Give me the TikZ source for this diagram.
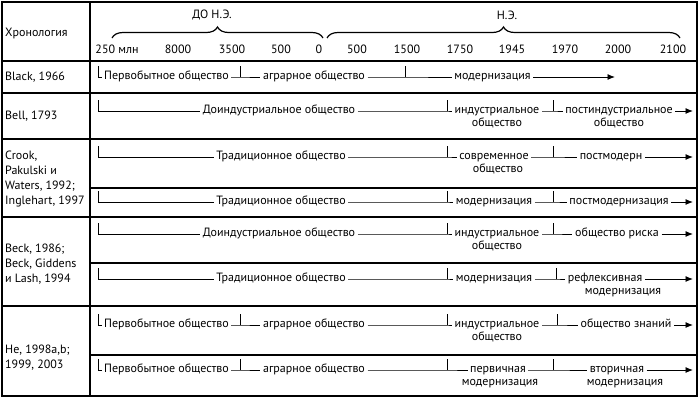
\documentclass[tikz,border=0pt]{standalone}
\usepackage{fontspec}
\setmainfont{PT Sans}
\usetikzlibrary{decorations.pathreplacing,arrows.meta}
\begin{document}
\begin{tikzpicture}[x=1pt,y=-1pt,
  txt/.style={font=\fontsize{12}{13}\selectfont},
  lbl/.style={txt, inner xsep=2.5pt, inner ysep=0pt, text height=1.2ex, text depth=0.2ex},
  rowlbl/.style={font=\fontsize{12}{15}\selectfont, anchor=west, align=left, inner sep=0pt},
  yr/.style={txt, inner sep=0pt},
  frame/.style={line width=1.4pt},
  grid/.style={line width=1.2pt},
  conn/.style={line width=0.9pt},
  arr/.style={conn, -{Latex[length=7.5pt,width=6pt]}},
  bracestyle/.style={line width=1.2pt, decorate, decoration={brace, amplitude=11pt, aspect=0.5}}
]
\useasboundingbox (0,0) rectangle (700,399);
\fill[white] (0,0) rectangle (700,399);

% table frame
\draw[frame] (2,2) rectangle (697,396);
\draw[grid] (90,2) -- (90,396);
\draw[grid] (2,61) -- (697,61);
\draw[grid] (2,93) -- (697,93);
\draw[grid] (2,139) -- (697,139);
\draw[grid] (2,217) -- (697,217);
\draw[grid] (2,306) -- (697,306);
\draw[grid] (90,188) -- (697,188);
\draw[grid] (90,263) -- (697,263);
\draw[grid] (90,355) -- (697,355);

% header
\node[rowlbl] (hdr) at (5,33) {Хронология};
\node[txt, inner sep=0pt] (bc) at (212,15) {ДО Н.Э.};
\node[txt, inner sep=0pt] (ad) at (507,15) {Н.Э.};
\draw[bracestyle] (112,38) -- (323,38);
\draw[bracestyle] (327,38) -- (680,38);
\node[yr] (y1) at (117,49) {250 млн};
\node[yr] (y2) at (178,49) {8000};
\node[yr] (y3) at (232,49) {3500};
\node[yr] (y4) at (281,49) {500};
\node[yr] (y5) at (319,49) {0};
\node[yr] (y6) at (357,49) {500};
\node[yr] (y7) at (407,49) {1500};
\node[yr] (y8) at (460,49) {1750};
\node[yr] (y9) at (512,49) {1945};
\node[yr] (y10) at (565,49) {1970};
\node[yr] (y11) at (618,49) {2000};
\node[yr] (y12) at (673,49) {2100};

% row labels
\node[rowlbl] (rBlack) at (5,77) {Black, 1966};
\node[rowlbl] (rBell) at (5,116) {Bell, 1793};
\node[rowlbl] (rCrook) at (5,178.5) {Crook,\\Pakulski и\\Waters, 1992;\\Inglehart, 1997};
\node[rowlbl] (rBeck) at (5,264) {Beck, 1986;\\Beck, Giddens\\и Lash, 1994};
\node[rowlbl] (rHe) at (5,358) {He, 1998a,b;\\1999, 2003};

% ---- Black, 1966 (Y=77)
\node[lbl] (a1) at (166.5,77) {Первобытное общество};
\node[lbl] (a2) at (314,77) {аграрное общество};
\node[lbl] (a3) at (492.5,77) {модернизация};
\coordinate (a0) at (98,66);
\coordinate (ak1) at (240,77); \coordinate (ak1t) at (240,66);
\coordinate (ak2) at (405,77); \coordinate (ak2t) at (405,66);
\coordinate (aend) at (615,77);
\draw[conn] (a0) |- (a1);
\draw[conn] (a1) -- (ak1) -- (a2);
\draw[conn] (ak1t) -- (ak1);
\draw[conn] (a2) -- (ak2) -- (a3);
\draw[conn] (ak2t) -- (ak2);
\draw[arr] (a3) -- (aend);

% ---- Bell, 1793 (Y=111)
\node[lbl] (e1) at (279,111) {Доиндустриальное общество};
\node[lbl] (e2) at (497,111) {индустриальное};
\node[lbl] (e2b) at (497,124) {общество};
\node[lbl] (e3) at (619,111) {постиндустриальное};
\node[lbl] (e3b) at (619,124) {общество};
\coordinate (e0) at (98,100);
\coordinate (ek1) at (447,111); \coordinate (ek1t) at (447,100);
\coordinate (ek2) at (553,111); \coordinate (ek2t) at (553,100);
\coordinate (eend) at (693,111);
\draw[conn] (e0) |- (e1);
\draw[conn] (e1) -- (ek1) -- (e2);
\draw[conn] (ek1t) -- (ek1);
\draw[conn] (e2) -- (ek2) -- (e3);
\draw[conn] (ek2t) -- (ek2);
\draw[arr] (e3) -- (eend);

% ---- Crook 1 (Y=157)
\node[lbl] (c1) at (281,157) {Традиционное общество};
\node[lbl] (c2) at (494,157) {современное};
\node[lbl] (c2b) at (498,170) {общество};
\node[lbl] (c3) at (611,157) {постмодерн};
\coordinate (c0) at (98,146);
\coordinate (ck1) at (447,157); \coordinate (ck1t) at (447,146);
\coordinate (ck2) at (553,157); \coordinate (ck2t) at (553,146);
\coordinate (cend) at (693,157);
\draw[conn] (c0) |- (c1);
\draw[conn] (c1) -- (ck1) -- (c2);
\draw[conn] (ck1t) -- (ck1);
\draw[conn] (c2) -- (ck2) -- (c3);
\draw[conn] (ck2t) -- (ck2);
\draw[arr] (c3) -- (cend);

% ---- Crook 2 (Y=202)
\node[lbl] (d1) at (281,202) {Традиционное общество};
\node[lbl] (d2) at (494,202) {модернизация};
\node[lbl] (d3) at (619,202) {постмодернизация};
\coordinate (d0) at (98,191);
\coordinate (dk1) at (447,202); \coordinate (dk1t) at (447,191);
\coordinate (dk2) at (553,202); \coordinate (dk2t) at (553,191);
\coordinate (dend) at (693,202);
\draw[conn] (d0) |- (d1);
\draw[conn] (d1) -- (dk1) -- (d2);
\draw[conn] (dk1t) -- (dk1);
\draw[conn] (d2) -- (dk2) -- (d3);
\draw[conn] (dk2t) -- (dk2);
\draw[arr] (d3) -- (dend);

% ---- Beck 1 (Y=234)
\node[lbl] (f1) at (279,234) {Доиндустриальное общество};
\node[lbl] (f2) at (497,234) {индустриальное};
\node[lbl] (f2b) at (497,247) {общество};
\node[lbl] (f3) at (617,234) {общество риска};
\coordinate (f0) at (98,223);
\coordinate (fk1) at (447,234); \coordinate (fk1t) at (447,223);
\coordinate (fk2) at (553,234); \coordinate (fk2t) at (553,223);
\coordinate (fend) at (693,234);
\draw[conn] (f0) |- (f1);
\draw[conn] (f1) -- (fk1) -- (f2);
\draw[conn] (fk1t) -- (fk1);
\draw[conn] (f2) -- (fk2) -- (f3);
\draw[conn] (fk2t) -- (fk2);
\draw[arr] (f3) -- (fend);

% ---- Beck 2 (Y=279)
\node[lbl] (g1) at (281,279) {Традиционное общество};
\node[lbl] (g2) at (494,279) {модернизация};
\node[lbl] (g3) at (605,279) {рефлексивная};
\node[lbl] (g3b) at (623,292) {модернизация};
\coordinate (g0) at (98,268);
\coordinate (gk1) at (447,279); \coordinate (gk1t) at (447,268);
\coordinate (gk2) at (556,279); \coordinate (gk2t) at (556,268);
\coordinate (gend) at (693,279);
\draw[conn] (g0) |- (g1);
\draw[conn] (g1) -- (gk1) -- (g2);
\draw[conn] (gk1t) -- (gk1);
\draw[conn] (g2) -- (gk2) -- (g3);
\draw[conn] (gk2t) -- (gk2);
\draw[arr] (g3) -- (gend);

% ---- He 1 (Y=325)
\node[lbl] (h1) at (166.5,325) {Первобытное общество};
\node[lbl] (h2) at (314,325) {аграрное общество};
\node[lbl] (h3) at (497,325) {индустриальное};
\node[lbl] (h3b) at (497,338) {общество};
\node[lbl] (h4) at (626,325) {общество знаний};
\coordinate (h0) at (98,314);
\coordinate (hk1) at (240,325); \coordinate (hk1t) at (240,314);
\coordinate (hk2) at (447,325); \coordinate (hk2t) at (447,314);
\coordinate (hk3) at (557,325); \coordinate (hk3t) at (557,314);
\coordinate (hend) at (693,325);
\draw[conn] (h0) |- (h1);
\draw[conn] (h1) -- (hk1) -- (h2);
\draw[conn] (hk1t) -- (hk1);
\draw[conn] (h2) -- (hk2) -- (h3);
\draw[conn] (hk2t) -- (hk2);
\draw[conn] (h3) -- (hk3) -- (h4);
\draw[conn] (hk3t) -- (hk3);
\draw[arr] (h4) -- (hend);

% ---- He 2 (Y=370)
\node[lbl] (i1) at (166.5,370) {Первобытное общество};
\node[lbl] (i2) at (314,370) {аграрное общество};
\node[lbl] (i3) at (498,370) {первичная};
\node[lbl] (i3b) at (500,383) {модернизация};
\node[lbl] (i4) at (617,370) {вторичная};
\node[lbl] (i4b) at (625,383) {модернизация};
\coordinate (i0) at (98,359);
\coordinate (ik1) at (240,370); \coordinate (ik1t) at (240,359);
\coordinate (ik2) at (447,370); \coordinate (ik2t) at (447,359);
\coordinate (ik3) at (553,370); \coordinate (ik3t) at (553,359);
\coordinate (iend) at (693,370);
\draw[conn] (i0) |- (i1);
\draw[conn] (i1) -- (ik1) -- (i2);
\draw[conn] (ik1t) -- (ik1);
\draw[conn] (i2) -- (ik2) -- (i3);
\draw[conn] (ik2t) -- (ik2);
\draw[conn] (i3) -- (ik3) -- (i4);
\draw[conn] (ik3t) -- (ik3);
\draw[arr] (i4) -- (iend);
\end{tikzpicture}
\end{document}
